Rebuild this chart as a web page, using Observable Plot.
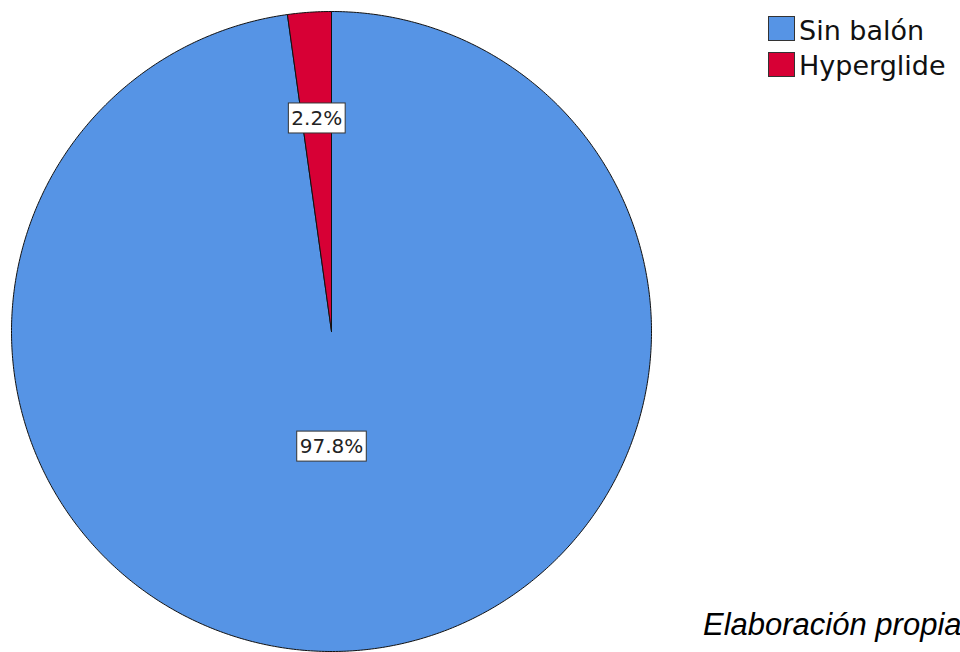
<!DOCTYPE html>
<html>
<head>
<meta charset="utf-8">
<script src="https://cdn.jsdelivr.net/npm/d3@7"></script>
<script src="https://cdn.jsdelivr.net/npm/@observablehq/plot@0.6"></script>
<style>
  html, body { margin: 0; padding: 0; background: #fff; }
  #wrap { position: relative; width: 960px; height: 652px; overflow: hidden; }
  #wrap svg { position: absolute; left: 0; top: 0; }
  .leg-sw { position: absolute; width: 27px; height: 25px; box-sizing: border-box; border: 1px solid #333; }
  .leg-tx { position: absolute; font-family: "DejaVu Sans", sans-serif; font-size: 27px; line-height: 27px; color: #111; white-space: nowrap; }
  #caption { position: absolute; left: 703px; top: 609px; font-family: "Liberation Sans", Arial, sans-serif; font-style: italic; font-size: 31px; line-height: 31px; color: #000; white-space: nowrap; }
</style>
</head>
<body>
<div id="wrap"></div>
<script>
// ---- data ----
const categories = ["Sin balón", "Hyperglide"];
const percents = [97.8, 2.2];
const colors = ["#5694e5", "#d70035"];
const caption = "Elaboración propia";

// ---- derived geometry (unit circle, angles clockwise from 12 o'clock) ----
const arcs = d3.pie().sort(null)(percents);
const slicePts = [];
arcs.forEach((a, i) => {
  const cat = categories[i];
  slicePts.push({cat, x: 0, y: 0});
  const n = Math.max(2, Math.ceil((a.endAngle - a.startAngle) / (Math.PI / 360)));
  for (let k = 0; k <= n; k++) {
    const t = a.startAngle + (a.endAngle - a.startAngle) * k / n;
    slicePts.push({cat, x: Math.sin(t), y: Math.cos(t)});
  }
  slicePts.push({cat, x: 0, y: 0});
});
const labels = arcs.map((a, i) => {
  const mid = (a.startAngle + a.endAngle) / 2;
  const big = percents[i] > 50;
  const frac = big ? 0.36 : 0.667;
  return {
    x: big ? 0 : Math.sin(mid) * frac,
    y: big ? -frac : Math.cos(mid) * frac,
    text: percents[i].toFixed(1) + "%"
  };
});

const chart = Plot.plot({
  width: 960,
  height: 652,
  marginLeft: 11,
  marginRight: 309,
  marginTop: 11,
  marginBottom: 1,
  x: {domain: [-1, 1], axis: null},
  y: {domain: [-1, 1], axis: null},
  color: {domain: categories, range: colors},
  marks: [
    Plot.line(slicePts, {x: "x", y: "y", z: "cat", fill: "cat", stroke: "#111", strokeWidth: 1, curve: "linear-closed"}),
    Plot.text(labels, {x: "x", y: "y", text: "text", fontSize: 20, fill: "#222", fontFamily: "DejaVu Sans, sans-serif", className: "pie-label"})
  ]
});

const wrap = document.getElementById("wrap");
wrap.appendChild(chart);

// boxes behind the percentage labels
d3.select(chart).selectAll("g.pie-label text").each(function() {
  const b = this.getBBox();
  const padX = 3, padY = 4;
  const t = this.getAttribute("transform");
  const rect = document.createElementNS("http://www.w3.org/2000/svg", "rect");
  rect.setAttribute("x", b.x - padX);
  rect.setAttribute("y", b.y - padY + 1);
  rect.setAttribute("width", b.width + 2 * padX);
  rect.setAttribute("height", b.height + 2 * padY - 2);
  rect.setAttribute("fill", "#fff");
  rect.setAttribute("stroke", "#333");
  rect.setAttribute("stroke-width", "1");
  if (t) rect.setAttribute("transform", t);
  this.parentNode.insertBefore(rect, this);
});

// legend
const colorScale = chart.scale("color");
categories.forEach((c, i) => {
  const sw = document.createElement("div");
  sw.className = "leg-sw";
  sw.style.left = "768px";
  sw.style.top = (16 + i * 36) + "px";
  sw.style.background = colorScale.range[colorScale.domain.indexOf(c)];
  wrap.appendChild(sw);
  const tx = document.createElement("div");
  tx.className = "leg-tx";
  tx.style.left = "799px";
  tx.style.top = (17 + i * 35) + "px";
  tx.textContent = c;
  wrap.appendChild(tx);
});

const cap = document.createElement("div");
cap.id = "caption";
cap.textContent = caption;
wrap.appendChild(cap);
</script>
</body>
</html>
